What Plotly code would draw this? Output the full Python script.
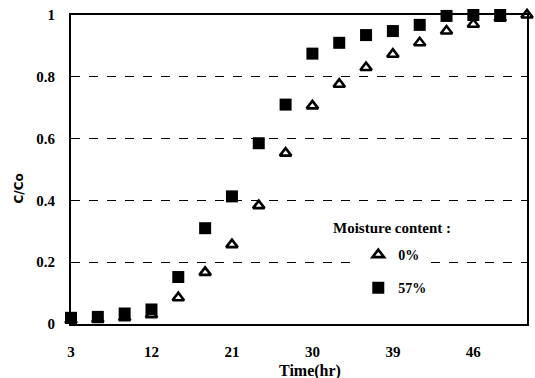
import plotly.graph_objects as go

time_sq = [3, 6, 9, 12, 15, 18, 21, 24, 27, 30, 33, 36, 39, 42, 45, 48, 51]
c57 = [0.02, 0.023, 0.034, 0.047, 0.152, 0.31, 0.413, 0.585, 0.71, 0.875, 0.91, 0.935, 0.948, 0.968, 0.997, 1.0, 1.0]

time_tri = [3, 6, 9, 12, 15, 18, 21, 24, 27, 30, 33, 36, 39, 42, 45, 48, 51, 54]
c0 = [0.012, 0.015, 0.02, 0.03, 0.085, 0.167, 0.257, 0.383, 0.553, 0.706, 0.776, 0.83, 0.873, 0.91, 0.948, 0.97, 0.99, 1.0]

x_tickvals = [3, 12, 21, 30, 39, 48]
x_ticktext = ["3", "12", "21", "30", "39", "46"]
y_tickvals = [0, 0.2, 0.4, 0.6, 0.8, 1.0]
y_ticktext = ["0", "0.2", "0.4", "0.6", "0.8", "1"]

SERIF = "Liberation Serif, DejaVu Serif, serif"

fig = go.Figure()
fig.add_trace(go.Scatter(
    x=time_tri, y=c0, mode="markers", name="<b>0%</b>",
    legendgroup="a", cliponaxis=False,
    marker=dict(symbol="triangle-up", size=10, color="white",
                line=dict(color="black", width=2.6)),
))
fig.add_trace(go.Scatter(
    x=time_sq, y=c57, mode="markers", name="<b>57%</b>",
    legendgroup="b", cliponaxis=False,
    marker=dict(symbol="square", size=12, color="black",
                line=dict(color="black", width=0)),
))

fig.update_layout(
    width=535, height=378,
    margin=dict(l=71, r=8, t=15, b=54),
    paper_bgcolor="white", plot_bgcolor="white",
    font=dict(family=SERIF, size=14, color="black"),
    showlegend=True,
    legend=dict(
        x=0.63, y=0.275, xanchor="left", yanchor="top",
        bgcolor="white", borderwidth=0,
        font=dict(family=SERIF, size=14, color="black"),
        itemwidth=30, tracegroupgap=12, traceorder="grouped",
    ),
    xaxis=dict(
        range=[3, 54], tickvals=x_tickvals, ticktext=x_ticktext,
        showgrid=False, zeroline=False, automargin=False,
        showline=True, linecolor="black", linewidth=2, mirror=True,
        ticks="", ticklabelstandoff=13,
        tickfont=dict(family=SERIF, size=15, color="black", weight="bold"),
    ),
    yaxis=dict(
        range=[0, 1], tickvals=y_tickvals, ticktext=y_ticktext,
        showgrid=True, gridcolor="black", griddash="dash", gridwidth=1,
        zeroline=False, automargin=False,
        showline=True, linecolor="black", linewidth=2, mirror=True,
        ticks="", ticklabelstandoff=11,
        tickfont=dict(family=SERIF, size=15, color="black", weight="bold"),
    ),
    annotations=[
        dict(text="<b>Moisture content :</b>", xref="paper", yref="paper",
             x=0.705, y=0.31, xanchor="center", yanchor="middle", showarrow=False,
             font=dict(family=SERIF, size=15, color="black")),
        dict(text="<b>Time(hr)</b>", xref="paper", yref="paper",
             x=0.525, y=-0.152, xanchor="center", yanchor="middle", showarrow=False,
             font=dict(family=SERIF, size=16, color="black")),
        dict(text="<b>C/Co</b>", xref="paper", yref="paper",
             x=-0.115, y=0.437, xanchor="center", yanchor="middle", showarrow=False,
             textangle=-90, font=dict(family="DejaVu Sans, sans-serif", size=12, color="black")),
    ],
)

fig.write_html("out.html")
